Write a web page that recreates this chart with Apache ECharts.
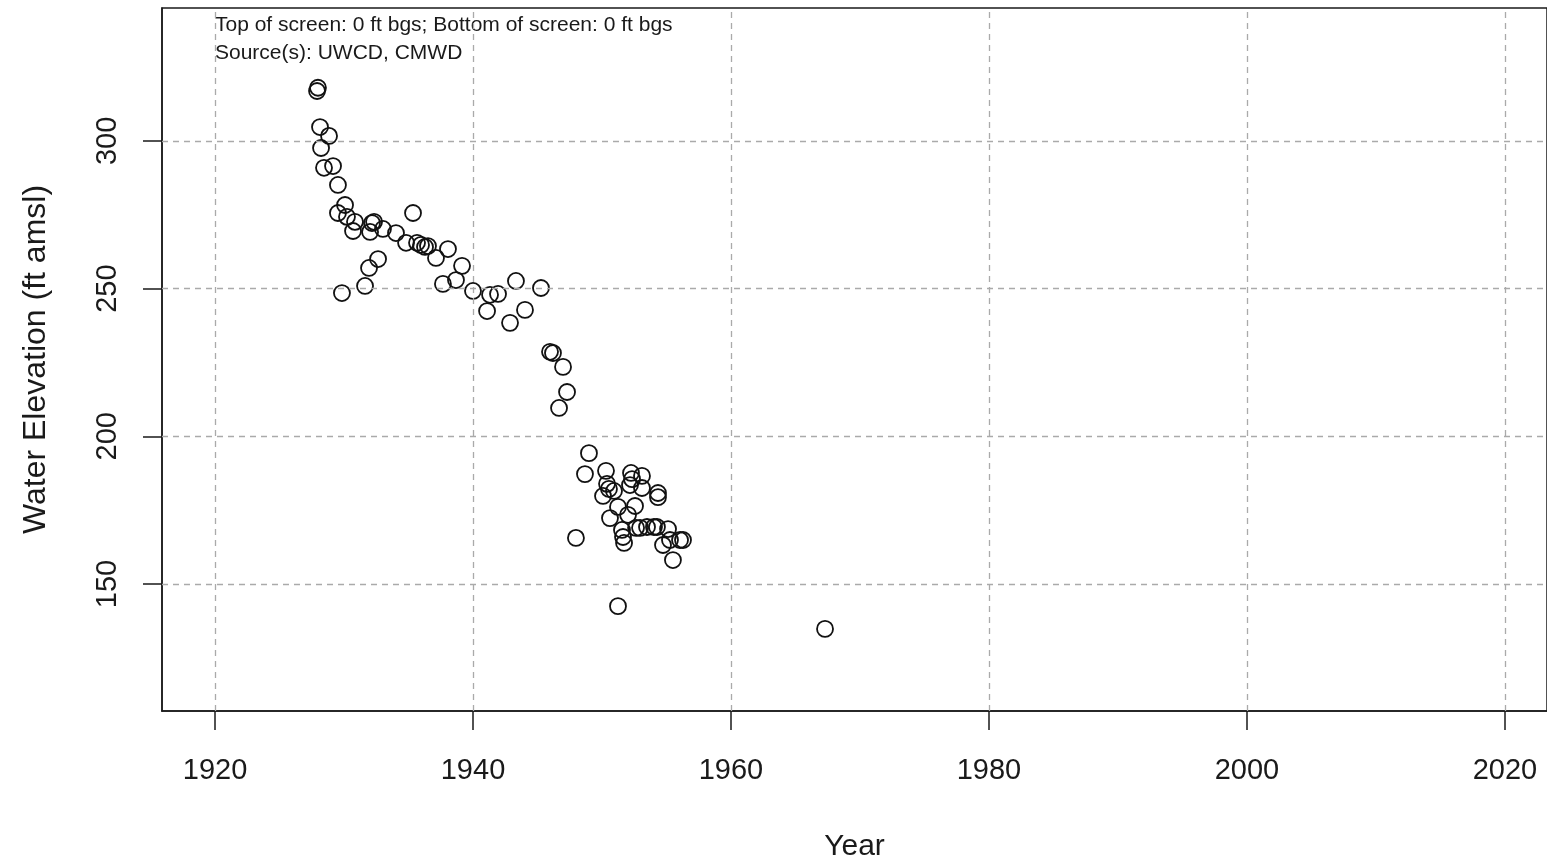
<!DOCTYPE html>
<html><head><meta charset="utf-8">
<script src="https://cdn.jsdelivr.net/npm/echarts@6/dist/echarts.min.js"></script>
<style>html,body{margin:0;padding:0;background:#fff}#c{width:1547px;height:863px}</style>
</head><body><div id="c"></div>
<script>
const years = [1927.91,1927.98,1928.14,1928.84,1928.22,1928.45,1929.15,1929.53,1929.53,1930.08,1930.23,1929.84,1930.70,1930.85,1932.02,1932.17,1932.33,1931.94,1931.63,1932.64,1933.02,1934.03,1934.81,1935.35,1935.66,1935.97,1936.28,1936.51,1937.13,1937.67,1938.06,1938.68,1939.15,1940.00,1941.09,1941.32,1941.94,1942.87,1943.33,1944.03,1945.27,1945.97,1946.20,1946.98,1947.29,1946.67,1948.99,1948.68,1950.31,1947.98,1950.39,1950.54,1950.08,1950.93,1952.25,1953.10,1952.33,1952.17,1953.10,1954.34,1954.34,1951.24,1952.56,1952.02,1950.62,1951.55,1951.63,1951.71,1952.64,1952.95,1953.49,1954.03,1954.26,1955.12,1954.73,1955.27,1956.05,1956.28,1955.50,1951.24,1967.29];
const elevations = [316.9,318.0,304.7,301.7,297.6,290.9,291.5,285.1,275.6,278.3,274.3,248.5,269.5,272.6,269.2,272.2,272.6,257.0,250.9,260.0,270.2,268.8,265.5,275.6,265.5,264.8,264.1,264.4,260.4,251.6,263.4,252.9,257.7,249.2,242.4,247.9,248.2,238.4,252.6,242.8,250.2,228.6,228.2,223.5,215.0,209.6,194.3,187.2,188.3,165.6,183.9,182.2,179.8,181.5,187.6,186.6,185.5,183.5,182.5,180.8,179.4,176.1,176.4,173.4,172.3,168.3,165.9,163.9,169.0,169.0,169.3,169.3,169.3,168.6,163.2,164.9,164.9,164.9,158.1,142.5,134.8];
const xTicks = [1920,1940,1960,1980,2000,2020];
const yTicks = [150,200,250,300];
const xRange = [1915.89, 2023.26];
const yRange = [107.0, 345.0];
const annotationLines = ["Top of screen: 0 ft bgs; Bottom of screen: 0 ft bgs", "Source(s): UWCD, CMWD"];
const xTitle = "Year";
const yTitle = "Water Elevation (ft amsl)";

const FONT = "Liberation Sans, Arial, Helvetica, sans-serif";
const chart = echarts.init(document.getElementById('c'), null, {renderer: 'canvas'});
const points = years.map((y, i) => [y, elevations[i]]);
const gridStyle = {type: [6, 5], color: '#aaaaaa', width: 1.3};

chart.setOption({
  animation: false,
  backgroundColor: '#fff',
  grid: {left: 162, right: 0, top: 8, bottom: 152, containLabel: false, outerBoundsMode: 'none', show: true, borderColor: '#1a1a1a', borderWidth: 1.5, backgroundColor: 'transparent'},
  xAxis: {
    type: 'value', min: xRange[0], max: xRange[1],
    name: xTitle, nameLocation: 'middle', nameGap: 121,
    nameTextStyle: {fontFamily: FONT, fontSize: 30, color: '#1a1a1a'},
    axisLine: {show: true, onZero: false, lineStyle: {color: '#1a1a1a', width: 1.5}},
    axisTick: {show: true, length: 19, customValues: xTicks, lineStyle: {color: '#1a1a1a', width: 1.5}},
    axisLabel: {customValues: xTicks, margin: 45, fontFamily: FONT, fontSize: 29, color: '#1a1a1a', formatter: v => String(v)},
    splitLine: {show: false}
  },
  yAxis: {
    type: 'value', min: yRange[0], max: yRange[1],
    name: yTitle, nameLocation: 'middle', nameGap: 110, nameRotate: 90,
    nameTextStyle: {fontFamily: FONT, fontSize: 32, color: '#1a1a1a'},
    axisLine: {show: true, onZero: false, lineStyle: {color: '#1a1a1a', width: 1.5}},
    axisTick: {show: true, length: 19, customValues: yTicks, lineStyle: {color: '#1a1a1a', width: 1.5}},
    axisLabel: {customValues: yTicks, rotate: 90, margin: 40, fontFamily: FONT, fontSize: 29, color: '#1a1a1a', formatter: v => String(v)},
    splitLine: {show: false}
  },
  graphic: annotationLines.map((t, i) => ({
    type: 'text', left: 215, top: 15 + i * 28, silent: true,
    style: {text: t, fontFamily: FONT, fontSize: 21, fill: '#1a1a1a'}
  })),
  series: [{
    type: 'scatter',
    data: points,
    symbol: 'circle',
    symbolSize: 16,
    itemStyle: {color: 'rgba(0,0,0,0)', borderColor: '#111', borderWidth: 1.8, opacity: 1},
    markLine: {
      silent: true, symbol: ['none', 'none'], label: {show: false},
      lineStyle: gridStyle, animation: false,
      data: xTicks.map(v => ({xAxis: v})).concat(yTicks.map(v => ({yAxis: v})))
    },
    z: 3
  }]
});
</script></body></html>
